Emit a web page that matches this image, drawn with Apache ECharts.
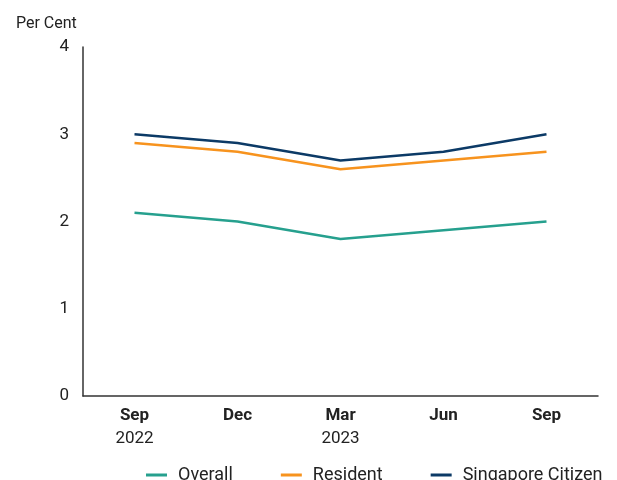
<!DOCTYPE html>
<html><head><meta charset="utf-8">
<script src="https://cdn.jsdelivr.net/npm/echarts@6/dist/echarts.min.js"></script>
<style>html,body{margin:0;padding:0;background:#fff}#c{width:617px;height:480px}</style>
</head><body><div id="c"></div>
<script>
const months = ['Sep','Dec','Mar','Jun','Sep'];
const years = ['2022','','2023','',''];
const overall = [2.1, 2.0, 1.8, 1.9, 2.0];
const resident = [2.9, 2.8, 2.6, 2.7, 2.8];
const citizen = [3.0, 2.9, 2.7, 2.8, 3.0];
const yTicks = [0, 1, 2, 3, 4];

const cats = months.map((m, i) => m + '\n' + years[i]);
const font = 'Roboto, "Noto Sans", sans-serif';
const chart = echarts.init(document.getElementById('c'), null, {renderer: 'canvas'});
function line(name, data, color) {
  return {name, type: 'line', data, symbol: 'none', smooth: false,
    lineStyle: {color, width: 2.5}, itemStyle: {color}};
}
chart.setOption({
  animation: false,
  textStyle: {fontFamily: font},
  title: {text: 'Per Cent', left: 11, top: 11,
    textStyle: {fontSize: 16, fontWeight: 'normal', color: '#222', fontFamily: font}},
  legend: {top: 461, left: 141, itemGap: 48, itemWidth: 21, itemHeight: 3, icon: 'rect',
    textStyle: {fontSize: 18, color: '#222', fontFamily: font, padding: [0, 0, 0, 6]},
    data: ['Overall', 'Resident', 'Singapore Citizen']},
  grid: {left: 83, right: 19, top: 47, bottom: 84},
  xAxis: {type: 'category', data: cats, boundaryGap: true,
    axisLine: {lineStyle: {color: '#333', width: 1.5}},
    axisTick: {show: false},
    axisLabel: {margin: 8, interval: 0, lineHeight: 23,
      formatter: v => { const p = v.split('\n'); return '{m|' + p[0] + '}' + (p[1] ? '\n{y|' + p[1] + '}' : ''); },
      rich: {m: {fontWeight: 'bold', fontSize: 17, color: '#222', fontFamily: font, lineHeight: 23},
             y: {fontSize: 17, color: '#222', fontFamily: font, lineHeight: 23}}}},
  yAxis: {type: 'value', min: yTicks[0], max: yTicks[yTicks.length - 1], interval: 1,
    axisLine: {show: true, lineStyle: {color: '#333', width: 1.5}},
    axisTick: {show: false}, splitLine: {show: false},
    axisLabel: {margin: 14, fontSize: 17, color: '#222', fontFamily: font}},
  series: [line('Overall', overall, '#26a08e'), line('Resident', resident, '#f7931e'),
           line('Singapore Citizen', citizen, '#0c3a66')]
});
</script></body></html>
